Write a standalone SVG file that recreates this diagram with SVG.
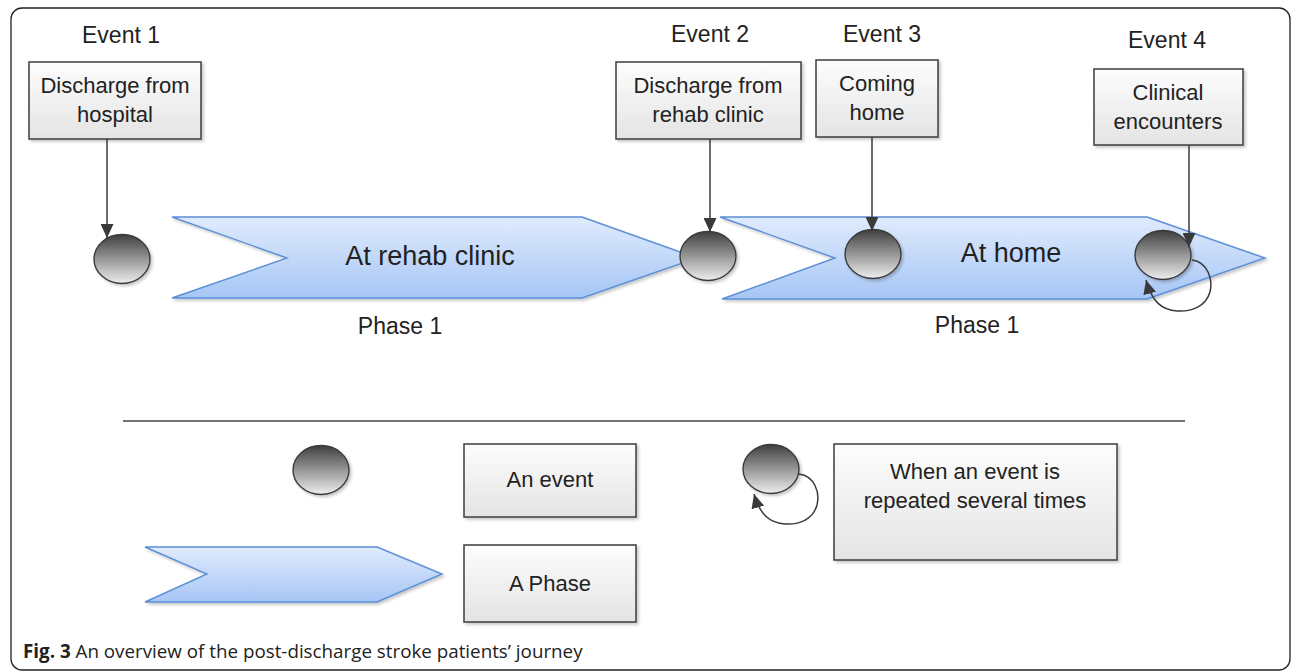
<svg xmlns="http://www.w3.org/2000/svg" width="1292" height="672" viewBox="0 0 1292 672">
<style>
.t{font-family:"Liberation Sans",Arial,sans-serif;fill:#222;text-anchor:middle}
.ev{font-size:23px}
.bx{font-size:22px}
.ph{font-size:27px}
.pl{font-size:23px}
.box{fill:url(#gBox);stroke:#3c3c3c;stroke-width:1.5;filter:url(#sh)}
.evt{fill:url(#gEvt);stroke:#3a3a3a;stroke-width:1.4;filter:url(#sh)}
.chev{fill:url(#gChev);stroke:#5b8fd6;stroke-width:1.4;filter:url(#sh)}
.con{fill:none;stroke:#3a3a3a;stroke-width:1.5}
.arr{marker-end:url(#ah)}
.cap{font-family:"Open Sans","Liberation Sans",sans-serif;font-size:18.8px;fill:#222}
</style>
<defs>
<linearGradient id="gBox" x1="0" y1="0" x2="0" y2="1">
<stop offset="0" stop-color="#fdfdfd"/><stop offset="1" stop-color="#e4e4e4"/>
</linearGradient>
<linearGradient id="gEvt" x1="0" y1="0" x2="0" y2="1">
<stop offset="0" stop-color="#3f3f3f"/><stop offset="1" stop-color="#eeeeee"/>
</linearGradient>
<linearGradient id="gChev" x1="0" y1="0" x2="0" y2="1">
<stop offset="0" stop-color="#e0ebfd"/><stop offset="1" stop-color="#a6c6f5"/>
</linearGradient>
<filter id="sh" x="-10%" y="-10%" width="130%" height="130%">
<feDropShadow dx="2" dy="2" stdDeviation="1.5" flood-color="#000" flood-opacity="0.22"/>
</filter>
<marker id="ah" markerUnits="userSpaceOnUse" markerWidth="15" markerHeight="13" refX="14" refY="6.5" orient="auto">
<path d="M0,0 L14,6.5 L0,13 Z" fill="#3a3a3a"/>
</marker>
</defs>
<rect x="11" y="8" width="1279" height="662" rx="11" fill="#fff" stroke="#222" stroke-width="1.3"/>

<g id="phase1">
<path class="chev" d="M172,217 L582,217 L697,258 L582,298 L172,298 L287,258 Z"/>
<text class="t ph" x="430" y="265">At rehab clinic</text>
<text class="t pl" x="400" y="334">Phase 1</text>
</g>
<g id="phase2">
<path class="chev" d="M720,217 L1147,217 L1265,258 L1147,299 L722,299 L835,258 Z"/>
<text class="t ph" x="1011" y="262">At home</text>
<text class="t pl" x="977" y="333">Phase 1</text>
</g>

<g id="event1">
<text class="t ev" x="121" y="43">Event 1</text>
<rect class="box" x="29" y="62" width="172" height="77"/>
<text class="t bx" x="115" y="93">Discharge from</text>
<text class="t bx" x="115" y="122">hospital</text>
<ellipse class="evt" cx="122" cy="259" rx="28" ry="24.5"/>
</g>
<g id="event2">
<text class="t ev" x="710" y="42">Event 2</text>
<rect class="box" x="616" y="62" width="185" height="77"/>
<text class="t bx" x="708" y="93">Discharge from</text>
<text class="t bx" x="708" y="122">rehab clinic</text>
<ellipse class="evt" cx="708" cy="256" rx="28" ry="24.5"/>
</g>
<g id="event3">
<text class="t ev" x="882" y="42">Event 3</text>
<rect class="box" x="816" y="60" width="122" height="77"/>
<text class="t bx" x="877" y="91">Coming</text>
<text class="t bx" x="877" y="120">home</text>
<ellipse class="evt" cx="873" cy="254" rx="28" ry="24.5"/>
</g>
<g id="event4">
<text class="t ev" x="1167" y="48">Event 4</text>
<rect class="box" x="1094" y="69" width="149" height="76"/>
<text class="t bx" x="1168" y="100">Clinical</text>
<text class="t bx" x="1168" y="129">encounters</text>
<ellipse class="evt" cx="1163" cy="255" rx="28" ry="24.5"/>
</g>

<g id="legend">
<line x1="123" y1="421" x2="1185" y2="421" stroke="#444" stroke-width="1.5"/>
<g id="legend-event">
<ellipse class="evt" cx="321" cy="470" rx="28" ry="24.5"/>
<rect class="box" x="464" y="444" width="172" height="73"/>
<text class="t bx" x="550" y="487">An event</text>
</g>
<g id="legend-phase">
<path class="chev" d="M145,547 L377,547 L442,574 L377,602 L145,602 L207,574 Z"/>
<rect class="box" x="464" y="545" width="172" height="77"/>
<text class="t bx" x="550" y="591">A Phase</text>
</g>
<g id="legend-repeat">
<ellipse class="evt" cx="771" cy="469" rx="28" ry="24.5"/>
<rect class="box" x="834" y="444" width="283" height="116"/>
<text class="t bx" x="975" y="479">When an event is</text>
<text class="t bx" x="975" y="508">repeated several times</text>
</g>
</g>

<g id="connectors">
<line class="con arr" x1="107" y1="139" x2="107" y2="238"/>
<line class="con arr" x1="710" y1="139" x2="710" y2="232"/>
<line class="con arr" x1="872" y1="137" x2="872" y2="231"/>
<line class="con arr" x1="1189" y1="145" x2="1189" y2="247"/>
<path class="con arr" d="M1192,260 C1208,262 1213,280 1210,292 C1206,306 1192,312 1177,311 C1162,310 1152,302 1146,280"/>
<path class="con arr" d="M799,474 C815,476 820,493 817,505 C813,519 800,525 785,524 C770,523 760,515 754,494"/>
</g>

<text class="cap" x="23" y="658"><tspan font-weight="bold">Fig. 3</tspan> An overview of the post-discharge stroke patients’ journey</text>
</svg>
